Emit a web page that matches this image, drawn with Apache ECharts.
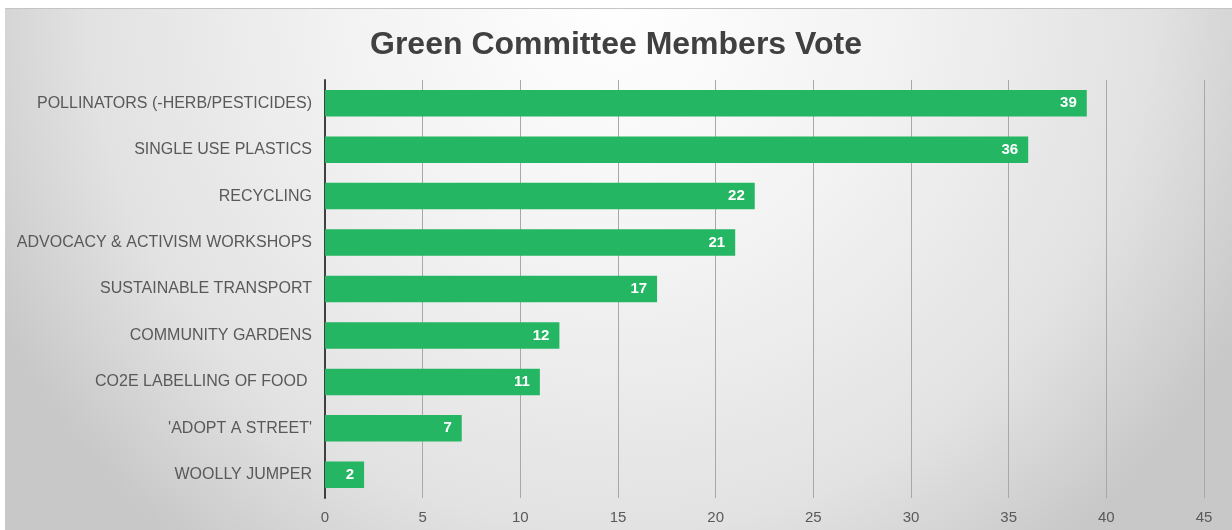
<!DOCTYPE html>
<html>
<head>
<meta charset="utf-8">
<script src="https://cdn.jsdelivr.net/npm/echarts@6/dist/echarts.min.js"></script>
<style>
html,body{margin:0;padding:0;background:#fff;}
#c{width:1232px;height:530px;}
</style>
</head>
<body>
<div id="c"></div>
<script>
const title = 'Green Committee Members Vote';
const categories = [
  'POLLINATORS (-HERB/PESTICIDES)',
  'SINGLE USE PLASTICS',
  'RECYCLING',
  'ADVOCACY & ACTIVISM WORKSHOPS',
  'SUSTAINABLE TRANSPORT',
  'COMMUNITY GARDENS',
  'CO2E LABELLING OF FOOD ',
  "'ADOPT A STREET'",
  'WOOLLY JUMPER'
];
const votes = [39, 36, 22, 21, 17, 12, 11, 7, 2];
const axisMin = 0, axisMax = 45, axisStep = 5;

const chart = echarts.init(document.getElementById('c'), null, {renderer: 'canvas'});
chart.setOption({
  backgroundColor: '#ffffff',
  animation: false,
  graphic: {
    z: -100,
    elements: [{
      type: 'rect',
      z: -100,
      silent: true,
      shape: {x: 5, y: 8, width: 1227, height: 522},
      style: {
        fill: {
          type: 'radial', x: 620, y: 0, r: 700, global: true,
          colorStops: [
            {offset: 0, color: '#ffffff'},
            {offset: 0.4, color: '#f2f2f2'},
            {offset: 0.76, color: '#e2e2e2'},
            {offset: 0.9, color: '#d3d3d3'},
            {offset: 1, color: '#c8c8c8'}
          ]
        }
      }
    }, {
      type: 'line',
      z: -99,
      silent: true,
      shape: {x1: 5, y1: 8.5, x2: 1232, y2: 8.5},
      style: {stroke: '#c4c4c4', lineWidth: 1}
    }]
  },
  title: {
    text: title,
    left: 'center',
    top: 24,
    textStyle: {fontFamily: 'Liberation Sans', fontWeight: 'bold', fontSize: 32, color: '#404040'}
  },
  grid: {left: 325, right: 28, top: 80, bottom: 32, containLabel: false},
  xAxis: {
    type: 'value',
    min: axisMin, max: axisMax, interval: axisStep,
    axisLine: {show: false},
    axisTick: {show: false},
    splitLine: {show: true, lineStyle: {color: '#a8a8a8', width: 1}},
    axisLabel: {color: '#595959', fontFamily: 'Liberation Sans', fontSize: 15, margin: 12}
  },
  yAxis: {
    type: 'category',
    data: categories,
    inverse: true,
    axisLine: {show: true, lineStyle: {color: '#404040', width: 2}},
    axisTick: {show: false},
    axisLabel: {color: '#595959', fontFamily: 'Liberation Sans', fontSize: 16, margin: 13}
  },
  series: [{
    type: 'bar',
    data: votes,
    barCategoryGap: '43%',
    itemStyle: {color: '#25b663'},
    label: {
      show: true, position: 'insideRight', distance: 10,
      color: '#ffffff', fontFamily: 'Liberation Sans', fontWeight: 'bold', fontSize: 15
    }
  }]
});
</script>
</body>
</html>
